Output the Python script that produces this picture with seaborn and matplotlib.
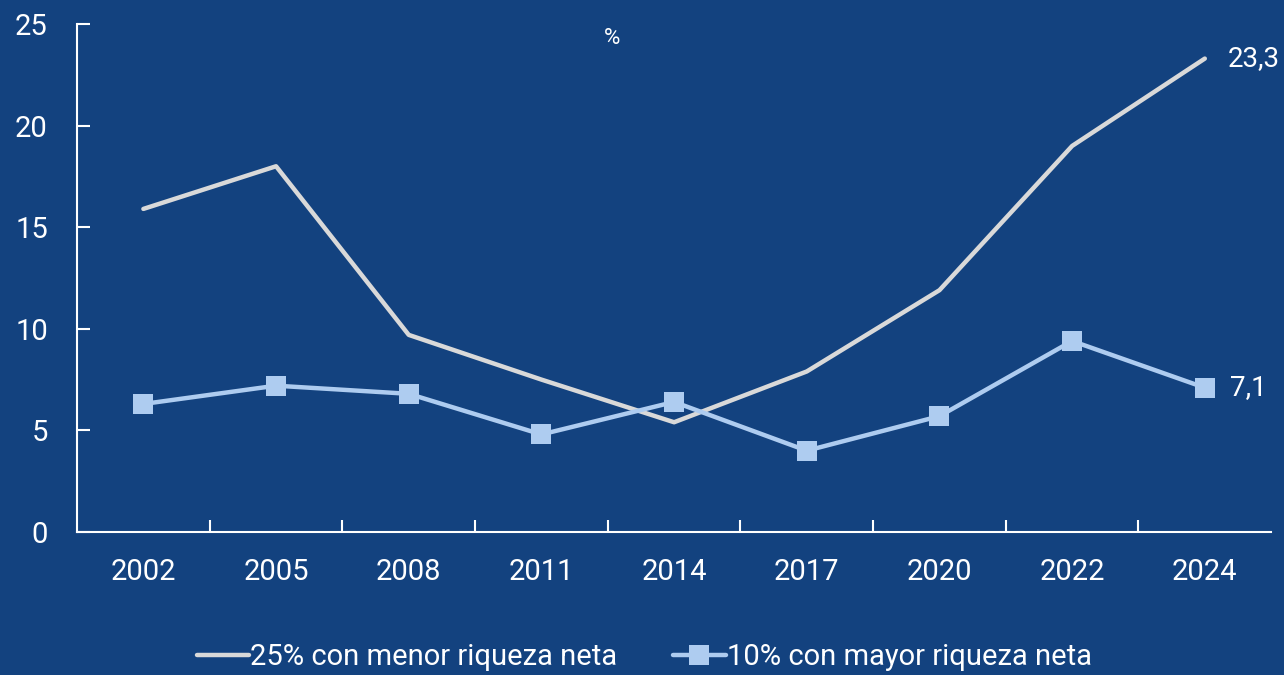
import pandas as pd
import matplotlib.pyplot as plt
import seaborn as sns

# Data
years = ["2002", "2005", "2008", "2011", "2014", "2017", "2020", "2022", "2024"]
menor = [15.9, 18.0, 9.7, 7.5, 5.4, 7.9, 11.9, 19.0, 23.3]
mayor = [6.3, 7.2, 6.8, 4.8, 6.4, 4.0, 5.7, 9.4, 7.1]
label_menor = "25% con menor riqueza neta"
label_mayor = "10% con mayor riqueza neta"

bg = "#13427F"
gray = "#D9D9D9"
light_blue = "#AECCF0"

df = pd.DataFrame({"pos": range(len(years)), "menor": menor, "mayor": mayor})

sns.set_style("ticks")
plt.rcParams['font.family'] = ['Roboto', 'DejaVu Sans']

fig = plt.figure(figsize=(12.84, 6.75), dpi=100, facecolor=bg)
ax = fig.add_axes([0.06, 0.2119, 0.93, 0.7525])
ax.set_facecolor(bg)

sns.lineplot(data=df, x="pos", y="menor", ax=ax, color=gray, linewidth=3.2,
             label=label_menor, solid_capstyle="round")
sns.lineplot(data=df, x="pos", y="mayor", ax=ax, color=light_blue, linewidth=3.2,
             marker="s", markersize=14, markeredgewidth=0, label=label_mayor)

# end labels
ax.text(len(years) - 1 + 0.17, menor[-1], f"{menor[-1]:.1f}".replace(".", ","),
        color="white", fontsize=20, va="center", ha="left")
ax.text(len(years) - 1 + 0.19, mayor[-1], f"{mayor[-1]:.1f}".replace(".", ","),
        color="white", fontsize=20, va="center", ha="left")

ax.text(0.448, 0.972, "%", transform=ax.transAxes, color="white", fontsize=16,
        ha="center", va="center")

ax.set_xlim(-0.5, len(years) - 0.5)
ax.set_ylim(0, 25)
ax.set_yticks([0, 5, 10, 15, 20, 25])
ax.set_xticks(range(len(years)))
ax.set_xticklabels(years)
ax.set_xticks([i + 0.5 for i in range(len(years) - 1)], minor=True)
ax.set_xlabel("")
ax.set_ylabel("")

for side in ["top", "right"]:
    ax.spines[side].set_visible(False)
for side in ["left", "bottom"]:
    ax.spines[side].set_color("white")
    ax.spines[side].set_linewidth(1.5)

ax.tick_params(axis="y", direction="in", length=9, width=1.5, colors="white",
               labelsize=21, pad=21)
ax.tick_params(axis="x", which="major", length=0, labelsize=21, colors="white", pad=19)
ax.tick_params(axis="x", which="minor", direction="in", length=9, width=1.5, colors="white")

leg = ax.legend(loc="upper center", bbox_to_anchor=(0.475, -0.196), ncol=2, frameon=False,
                fontsize=21, handlelength=1.8, handletextpad=0.05, columnspacing=1.9,
                borderaxespad=0)
for t in leg.get_texts():
    t.set_color("white")

fig.savefig("out.png", dpi=100, facecolor=bg)
